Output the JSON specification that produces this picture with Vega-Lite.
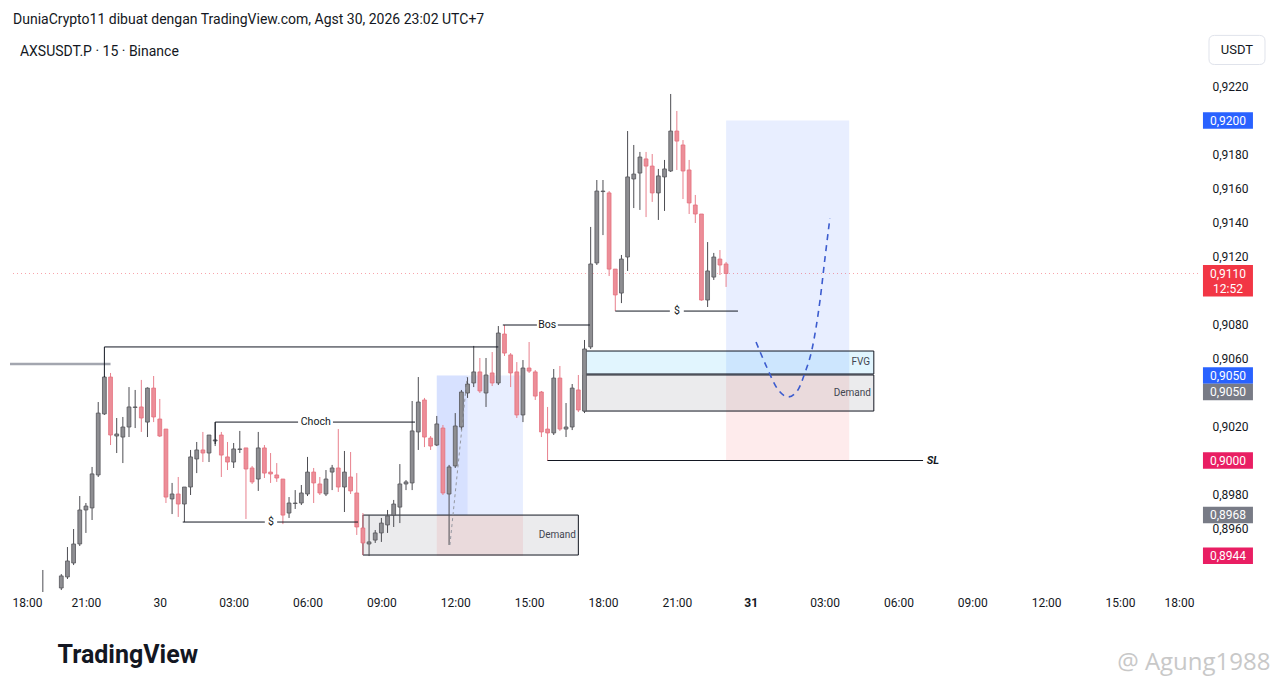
{
  "$schema": "https://vega.github.io/schema/vega-lite/v6.json",
  "width": 1188,
  "height": 560,
  "autosize": {"type": "none"},
  "padding": {"left": 10, "top": 32, "right": 82, "bottom": 97},
  "background": "white",
  "config": {
    "view": {"stroke": null},
    "axis": {"labelFont": "Roboto", "titleFont": "Roboto"},
    "text": {"font": "Roboto"},
    "locale": {"number": {"decimal": ",", "thousands": ".", "grouping": [3], "currency": ["", ""]}}
  },
  "title": {
    "text": "DuniaCrypto11 dibuat dengan TradingView.com, Agst 30, 2026 23:02 UTC+7",
    "subtitle": "\u200b\u00a0\u00a0AXSUSDT.P · 15 · Binance",
    "anchor": "start",
    "frame": "group",
    "offset": -27,
    "dx": 3,
    "font": "Roboto",
    "fontSize": 14,
    "fontWeight": "normal",
    "color": "#131722",
    "subtitleFont": "Roboto",
    "subtitleFontSize": 14,
    "subtitleColor": "#131722",
    "subtitlePadding": 18
  },
  "resolve": {"scale": {"fill": "independent", "stroke": "independent", "color": "independent", "strokeWidth": "independent"}},
  "datasets": {
    "candles": [
      {"t": "2026-08-29T19:15", "o": 0.8915, "h": 0.89356, "l": 0.8912, "c": 0.89209},
      {"t": "2026-08-29T20:00", "o": 0.8925, "h": 0.89332, "l": 0.89238, "c": 0.89321},
      {"t": "2026-08-29T20:15", "o": 0.89315, "h": 0.89491, "l": 0.89303, "c": 0.89409},
      {"t": "2026-08-29T20:30", "o": 0.89397, "h": 0.89597, "l": 0.89385, "c": 0.89509},
      {"t": "2026-08-29T20:45", "o": 0.89509, "h": 0.89791, "l": 0.89497, "c": 0.89709},
      {"t": "2026-08-29T21:00", "o": 0.89709, "h": 0.8975, "l": 0.89574, "c": 0.89732},
      {"t": "2026-08-29T21:15", "o": 0.89721, "h": 0.89962, "l": 0.8965, "c": 0.89921},
      {"t": "2026-08-29T21:30", "o": 0.89915, "h": 0.90344, "l": 0.89903, "c": 0.90279},
      {"t": "2026-08-29T21:45", "o": 0.90274, "h": 0.90497, "l": 0.90268, "c": 0.90491},
      {"t": "2026-08-29T22:00", "o": 0.90491, "h": 0.90515, "l": 0.90091, "c": 0.9015},
      {"t": "2026-08-29T22:15", "o": 0.90144, "h": 0.9025, "l": 0.90044, "c": 0.90156},
      {"t": "2026-08-29T22:30", "o": 0.90138, "h": 0.90256, "l": 0.89985, "c": 0.90197},
      {"t": "2026-08-29T22:45", "o": 0.90197, "h": 0.90432, "l": 0.90138, "c": 0.90315},
      {"t": "2026-08-29T23:00", "o": 0.90312, "h": 0.90415, "l": 0.90191, "c": 0.90315},
      {"t": "2026-08-29T23:15", "o": 0.90315, "h": 0.90474, "l": 0.90168, "c": 0.9025},
      {"t": "2026-08-29T23:30", "o": 0.90226, "h": 0.9043, "l": 0.90138, "c": 0.90426},
      {"t": "2026-08-29T23:45", "o": 0.90426, "h": 0.90497, "l": 0.90226, "c": 0.90256},
      {"t": "2026-08-30T00:00", "o": 0.90244, "h": 0.90362, "l": 0.90138, "c": 0.90144},
      {"t": "2026-08-30T00:15", "o": 0.90185, "h": 0.90185, "l": 0.8975, "c": 0.89785},
      {"t": "2026-08-30T00:30", "o": 0.89774, "h": 0.89868, "l": 0.89685, "c": 0.89803},
      {"t": "2026-08-30T00:45", "o": 0.89803, "h": 0.89903, "l": 0.89668, "c": 0.89744},
      {"t": "2026-08-30T01:00", "o": 0.89744, "h": 0.89844, "l": 0.89638, "c": 0.89844},
      {"t": "2026-08-30T01:15", "o": 0.89844, "h": 0.90062, "l": 0.89797, "c": 0.90021},
      {"t": "2026-08-30T01:30", "o": 0.90009, "h": 0.90109, "l": 0.89926, "c": 0.90062},
      {"t": "2026-08-30T01:45", "o": 0.90062, "h": 0.90168, "l": 0.89991, "c": 0.90044},
      {"t": "2026-08-30T02:00", "o": 0.90044, "h": 0.9015, "l": 0.89991, "c": 0.9015},
      {"t": "2026-08-30T02:15", "o": 0.90115, "h": 0.90226, "l": 0.90085, "c": 0.90121},
      {"t": "2026-08-30T02:30", "o": 0.9015, "h": 0.90168, "l": 0.89903, "c": 0.90032},
      {"t": "2026-08-30T02:45", "o": 0.90021, "h": 0.90109, "l": 0.89944, "c": 0.89991},
      {"t": "2026-08-30T03:00", "o": 0.89991, "h": 0.90103, "l": 0.89956, "c": 0.90068},
      {"t": "2026-08-30T03:15", "o": 0.90065, "h": 0.90174, "l": 0.90044, "c": 0.90068},
      {"t": "2026-08-30T03:30", "o": 0.90074, "h": 0.90074, "l": 0.89656, "c": 0.8995},
      {"t": "2026-08-30T03:45", "o": 0.89956, "h": 0.89968, "l": 0.89862, "c": 0.89874},
      {"t": "2026-08-30T04:00", "o": 0.89891, "h": 0.90168, "l": 0.89821, "c": 0.90074},
      {"t": "2026-08-30T04:15", "o": 0.90074, "h": 0.90091, "l": 0.89897, "c": 0.89926},
      {"t": "2026-08-30T04:30", "o": 0.89932, "h": 0.90044, "l": 0.89868, "c": 0.89921},
      {"t": "2026-08-30T04:45", "o": 0.89915, "h": 0.89985, "l": 0.89874, "c": 0.89897},
      {"t": "2026-08-30T05:00", "o": 0.89891, "h": 0.89891, "l": 0.89626, "c": 0.89679},
      {"t": "2026-08-30T05:15", "o": 0.89691, "h": 0.89785, "l": 0.89662, "c": 0.8975},
      {"t": "2026-08-30T05:30", "o": 0.89747, "h": 0.89826, "l": 0.89715, "c": 0.8975},
      {"t": "2026-08-30T05:45", "o": 0.8975, "h": 0.89856, "l": 0.89738, "c": 0.89809},
      {"t": "2026-08-30T06:00", "o": 0.89803, "h": 0.90021, "l": 0.89791, "c": 0.89932},
      {"t": "2026-08-30T06:15", "o": 0.89932, "h": 0.89956, "l": 0.8975, "c": 0.89868},
      {"t": "2026-08-30T06:30", "o": 0.89862, "h": 0.89903, "l": 0.89797, "c": 0.89809},
      {"t": "2026-08-30T06:45", "o": 0.89803, "h": 0.89944, "l": 0.89791, "c": 0.89891},
      {"t": "2026-08-30T07:00", "o": 0.89932, "h": 0.89974, "l": 0.89826, "c": 0.89956},
      {"t": "2026-08-30T07:15", "o": 0.89956, "h": 0.90185, "l": 0.89815, "c": 0.89844},
      {"t": "2026-08-30T07:30", "o": 0.89844, "h": 0.90056, "l": 0.89697, "c": 0.89932},
      {"t": "2026-08-30T07:45", "o": 0.89903, "h": 0.9005, "l": 0.89803, "c": 0.89821},
      {"t": "2026-08-30T08:00", "o": 0.89809, "h": 0.89926, "l": 0.89562, "c": 0.89609},
      {"t": "2026-08-30T08:15", "o": 0.89603, "h": 0.89691, "l": 0.89444, "c": 0.89515},
      {"t": "2026-08-30T08:30", "o": 0.89509, "h": 0.89679, "l": 0.89438, "c": 0.89521},
      {"t": "2026-08-30T08:45", "o": 0.89532, "h": 0.89591, "l": 0.89515, "c": 0.89574},
      {"t": "2026-08-30T09:00", "o": 0.89574, "h": 0.89662, "l": 0.89521, "c": 0.89632},
      {"t": "2026-08-30T09:15", "o": 0.89621, "h": 0.89709, "l": 0.89574, "c": 0.89674},
      {"t": "2026-08-30T09:30", "o": 0.89679, "h": 0.89768, "l": 0.89609, "c": 0.89744},
      {"t": "2026-08-30T09:45", "o": 0.89726, "h": 0.89979, "l": 0.89632, "c": 0.89862},
      {"t": "2026-08-30T10:00", "o": 0.89862, "h": 0.89885, "l": 0.89826, "c": 0.89874},
      {"t": "2026-08-30T10:15", "o": 0.89868, "h": 0.9035, "l": 0.89826, "c": 0.90174},
      {"t": "2026-08-30T10:30", "o": 0.90168, "h": 0.90491, "l": 0.90062, "c": 0.90344},
      {"t": "2026-08-30T10:45", "o": 0.90356, "h": 0.90368, "l": 0.90079, "c": 0.90138},
      {"t": "2026-08-30T11:00", "o": 0.90132, "h": 0.90144, "l": 0.90062, "c": 0.90085},
      {"t": "2026-08-30T11:15", "o": 0.90091, "h": 0.90262, "l": 0.90085, "c": 0.90215},
      {"t": "2026-08-30T11:30", "o": 0.90191, "h": 0.90209, "l": 0.89797, "c": 0.89809},
      {"t": "2026-08-30T11:45", "o": 0.89803, "h": 0.89974, "l": 0.89503, "c": 0.89962},
      {"t": "2026-08-30T12:00", "o": 0.89968, "h": 0.90279, "l": 0.89956, "c": 0.90203},
      {"t": "2026-08-30T12:15", "o": 0.90197, "h": 0.90415, "l": 0.90179, "c": 0.90403},
      {"t": "2026-08-30T12:30", "o": 0.90397, "h": 0.90491, "l": 0.90368, "c": 0.9045},
      {"t": "2026-08-30T12:45", "o": 0.90456, "h": 0.90674, "l": 0.90432, "c": 0.90521},
      {"t": "2026-08-30T13:00", "o": 0.90521, "h": 0.90603, "l": 0.90397, "c": 0.90409},
      {"t": "2026-08-30T13:15", "o": 0.90397, "h": 0.90603, "l": 0.90315, "c": 0.90503},
      {"t": "2026-08-30T13:30", "o": 0.90515, "h": 0.90638, "l": 0.90438, "c": 0.90456},
      {"t": "2026-08-30T13:45", "o": 0.90456, "h": 0.90791, "l": 0.90444, "c": 0.9075},
      {"t": "2026-08-30T14:00", "o": 0.90744, "h": 0.90797, "l": 0.90615, "c": 0.90632},
      {"t": "2026-08-30T14:15", "o": 0.90621, "h": 0.90632, "l": 0.90432, "c": 0.90515},
      {"t": "2026-08-30T14:30", "o": 0.90521, "h": 0.90579, "l": 0.9025, "c": 0.90268},
      {"t": "2026-08-30T14:45", "o": 0.90268, "h": 0.90591, "l": 0.90226, "c": 0.90544},
      {"t": "2026-08-30T15:00", "o": 0.90544, "h": 0.90697, "l": 0.90515, "c": 0.90526},
      {"t": "2026-08-30T15:15", "o": 0.90521, "h": 0.90532, "l": 0.90356, "c": 0.90379},
      {"t": "2026-08-30T15:30", "o": 0.90403, "h": 0.90409, "l": 0.90138, "c": 0.90168},
      {"t": "2026-08-30T15:45", "o": 0.90185, "h": 0.90315, "l": 0.89997, "c": 0.90162},
      {"t": "2026-08-30T16:00", "o": 0.90162, "h": 0.90538, "l": 0.9015, "c": 0.90485},
      {"t": "2026-08-30T16:15", "o": 0.90485, "h": 0.90556, "l": 0.90174, "c": 0.90185},
      {"t": "2026-08-30T16:30", "o": 0.90185, "h": 0.90338, "l": 0.90138, "c": 0.90197},
      {"t": "2026-08-30T16:45", "o": 0.90197, "h": 0.9045, "l": 0.90179, "c": 0.90426},
      {"t": "2026-08-30T17:00", "o": 0.90415, "h": 0.90503, "l": 0.90285, "c": 0.90297},
      {"t": "2026-08-30T17:15", "o": 0.90291, "h": 0.90709, "l": 0.90279, "c": 0.90656},
      {"t": "2026-08-30T17:30", "o": 0.90668, "h": 0.91374, "l": 0.90656, "c": 0.91156},
      {"t": "2026-08-30T17:45", "o": 0.91162, "h": 0.9165, "l": 0.9115, "c": 0.91585},
      {"t": "2026-08-30T18:00", "o": 0.91582, "h": 0.9165, "l": 0.91326, "c": 0.91585},
      {"t": "2026-08-30T18:15", "o": 0.91574, "h": 0.91585, "l": 0.91085, "c": 0.91126},
      {"t": "2026-08-30T18:30", "o": 0.91126, "h": 0.91126, "l": 0.90879, "c": 0.90974},
      {"t": "2026-08-30T18:45", "o": 0.90985, "h": 0.91209, "l": 0.90926, "c": 0.91185},
      {"t": "2026-08-30T19:00", "o": 0.91197, "h": 0.91938, "l": 0.91115, "c": 0.91668},
      {"t": "2026-08-30T19:15", "o": 0.91656, "h": 0.91856, "l": 0.91485, "c": 0.91685},
      {"t": "2026-08-30T19:30", "o": 0.91691, "h": 0.91815, "l": 0.91474, "c": 0.91785},
      {"t": "2026-08-30T19:45", "o": 0.91774, "h": 0.91815, "l": 0.91432, "c": 0.91732},
      {"t": "2026-08-30T20:00", "o": 0.91732, "h": 0.91803, "l": 0.91521, "c": 0.91574},
      {"t": "2026-08-30T20:15", "o": 0.91574, "h": 0.91715, "l": 0.91415, "c": 0.91674},
      {"t": "2026-08-30T20:30", "o": 0.91668, "h": 0.91768, "l": 0.91468, "c": 0.91715},
      {"t": "2026-08-30T20:45", "o": 0.91703, "h": 0.92156, "l": 0.91697, "c": 0.91938},
      {"t": "2026-08-30T21:00", "o": 0.91938, "h": 0.92056, "l": 0.91709, "c": 0.91879},
      {"t": "2026-08-30T21:15", "o": 0.91856, "h": 0.91885, "l": 0.91538, "c": 0.91703},
      {"t": "2026-08-30T21:30", "o": 0.91709, "h": 0.91768, "l": 0.9145, "c": 0.91515},
      {"t": "2026-08-30T21:45", "o": 0.91503, "h": 0.91562, "l": 0.91397, "c": 0.9145},
      {"t": "2026-08-30T22:00", "o": 0.9145, "h": 0.9145, "l": 0.9094, "c": 0.90944},
      {"t": "2026-08-30T22:15", "o": 0.90944, "h": 0.91285, "l": 0.90903, "c": 0.91115},
      {"t": "2026-08-30T22:30", "o": 0.91079, "h": 0.91221, "l": 0.91062, "c": 0.91197},
      {"t": "2026-08-30T22:45", "o": 0.91185, "h": 0.91238, "l": 0.91091, "c": 0.9115},
      {"t": "2026-08-30T23:00", "o": 0.91156, "h": 0.91168, "l": 0.91021, "c": 0.911}
    ],
    "zones": [
      {"kind": "profit", "t1": "2026-08-30T11:15", "t2": "2026-08-30T14:45", "p1": 0.8968, "p2": 0.905},
      {"kind": "hit", "t1": "2026-08-30T11:15", "t2": "2026-08-30T12:30", "p1": 0.8968, "p2": 0.905},
      {"kind": "loss", "t1": "2026-08-30T11:15", "t2": "2026-08-30T14:45", "p1": 0.8944, "p2": 0.8968},
      {"kind": "profit", "t1": "2026-08-30T23:00", "t2": "2026-08-31T04:00", "p1": 0.905, "p2": 0.92},
      {"kind": "loss", "t1": "2026-08-30T23:00", "t2": "2026-08-31T04:00", "p1": 0.9, "p2": 0.905}
    ],
    "boxes": [
      {"kind": "demand", "t1": "2026-08-30T08:15", "t2": "2026-08-30T17:00", "p1": 0.89444, "p2": 0.89679},
      {"kind": "fvg", "t1": "2026-08-30T17:15", "t2": "2026-08-31T05:00", "p1": 0.90509, "p2": 0.90644},
      {"kind": "demand", "t1": "2026-08-30T17:12", "t2": "2026-08-31T05:00", "p1": 0.90291, "p2": 0.90503}
    ],
    "segs": [
      {"kind": "grey", "t1": "2026-08-29T17:55", "t2": "2026-08-29T22:00", "p1": 0.90568, "p2": 0.90568},
      {"kind": "black", "t1": "2026-08-29T21:45", "t2": "2026-08-29T21:45", "p1": 0.90491, "p2": 0.90668},
      {"kind": "black", "t1": "2026-08-29T21:45", "t2": "2026-08-30T13:45", "p1": 0.90668, "p2": 0.90668},
      {"kind": "black", "t1": "2026-08-30T02:15", "t2": "2026-08-30T02:15", "p1": 0.90097, "p2": 0.90226},
      {"kind": "black", "t1": "2026-08-30T02:15", "t2": "2026-08-30T05:37", "p1": 0.90226, "p2": 0.90226},
      {"kind": "black", "t1": "2026-08-30T07:02", "t2": "2026-08-30T10:22", "p1": 0.90226, "p2": 0.90226},
      {"kind": "black", "t1": "2026-08-30T00:56", "t2": "2026-08-30T04:16", "p1": 0.89638, "p2": 0.89638},
      {"kind": "black", "t1": "2026-08-30T04:46", "t2": "2026-08-30T08:03", "p1": 0.89638, "p2": 0.89638},
      {"kind": "black", "t1": "2026-08-30T13:56", "t2": "2026-08-30T15:19", "p1": 0.90797, "p2": 0.90797},
      {"kind": "black", "t1": "2026-08-30T16:10", "t2": "2026-08-30T17:28", "p1": 0.90797, "p2": 0.90797},
      {"kind": "black", "t1": "2026-08-30T18:30", "t2": "2026-08-30T20:43", "p1": 0.90879, "p2": 0.90879},
      {"kind": "black", "t1": "2026-08-30T21:17", "t2": "2026-08-30T23:29", "p1": 0.90879, "p2": 0.90879},
      {"kind": "black", "t1": "2026-08-30T15:45", "t2": "2026-08-31T07:00", "p1": 0.9, "p2": 0.9}
    ],
    "curve": [
      {"t": "2026-08-31T00:13", "p": 0.90697},
      {"t": "2026-08-31T00:40", "p": 0.90544},
      {"t": "2026-08-31T01:04", "p": 0.90426},
      {"t": "2026-08-31T01:31", "p": 0.90374},
      {"t": "2026-08-31T01:55", "p": 0.90415},
      {"t": "2026-08-31T02:12", "p": 0.90515},
      {"t": "2026-08-31T02:29", "p": 0.9065},
      {"t": "2026-08-31T02:49", "p": 0.90944},
      {"t": "2026-08-31T03:01", "p": 0.91191},
      {"t": "2026-08-31T03:13", "p": 0.91426}
    ],
    "trade": [
      {"t": "2026-08-30T11:47", "p": 0.89503},
      {"t": "2026-08-30T12:29", "p": 0.90491}
    ],
    "labels": [
      {"kind": "mark", "text": "Choch", "t": "2026-08-30T06:20", "p": 0.90226},
      {"kind": "mark", "text": "$", "t": "2026-08-30T04:31", "p": 0.89638},
      {"kind": "mark", "text": "Bos", "t": "2026-08-30T15:44", "p": 0.90797},
      {"kind": "mark", "text": "$", "t": "2026-08-30T21:00", "p": 0.90879},
      {"kind": "zone", "text": "FVG", "t": "2026-08-31T04:51", "p": 0.90577},
      {"kind": "zone", "text": "Demand", "t": "2026-08-31T04:53", "p": 0.90397},
      {"kind": "zone", "text": "Demand", "t": "2026-08-30T16:54", "p": 0.89562},
      {"kind": "sl", "text": "SL", "t": "2026-08-31T07:24", "p": 0.9}
    ],
    "notes": [
      {"kind": "unit", "text": "USDT", "t": "2026-08-31T19:45", "p": 0.92415},
      {"kind": "credit", "text": "@ Agung1988", "t": "2026-08-31T14:53", "p": 0.888088}
    ],
    "markers": [
      {"kind": "target", "p": 0.92, "label": "0,9200", "sub": ""},
      {"kind": "last", "p": 0.911, "label": "0,9110", "sub": "12:52"},
      {"kind": "entry", "p": 0.905, "label": "0,9050", "sub": ""},
      {"kind": "zone", "p": 0.905, "label": "0,9050", "sub": ""},
      {"kind": "stop", "p": 0.9, "label": "0,9000", "sub": ""},
      {"kind": "entry2", "p": 0.8968, "label": "0,8968", "sub": ""},
      {"kind": "stop", "p": 0.8944, "label": "0,8944", "sub": ""}
    ]
  },
  "layer": [
    {
      "data": {"name": "zones"},
      "mark": {"type": "rect"},
      "encoding": {
        "x": {"field": "t1", "type": "temporal",
          "scale": {"domain": [{"year": 2026, "month": 8, "date": 29, "hours": 17, "minutes": 55}, {"year": 2026, "month": 8, "date": 31, "hours": 18, "minutes": 10}], "nice": false, "padding": 0},
          "axis": {"orient": "bottom", "title": "TradingView", "titleX": 47, "titleY": 62, "titleAlign": "left", "titleBaseline": "middle", "titleFontSize": 25, "titleFontWeight": "bold", "titleColor": "#131722",
            "grid": false, "ticks": false, "domain": false, "labelPadding": 5, "labelFontSize": 12, "labelColor": "#131722", "labelFlush": 6, "labelOverlap": false,
            "values": [
              {"year": 2026, "month": 8, "date": 29, "hours": 18},
              {"year": 2026, "month": 8, "date": 29, "hours": 21},
              {"year": 2026, "month": 8, "date": 30, "hours": 0},
              {"year": 2026, "month": 8, "date": 30, "hours": 3},
              {"year": 2026, "month": 8, "date": 30, "hours": 6},
              {"year": 2026, "month": 8, "date": 30, "hours": 9},
              {"year": 2026, "month": 8, "date": 30, "hours": 12},
              {"year": 2026, "month": 8, "date": 30, "hours": 15},
              {"year": 2026, "month": 8, "date": 30, "hours": 18},
              {"year": 2026, "month": 8, "date": 30, "hours": 21},
              {"year": 2026, "month": 8, "date": 31, "hours": 0},
              {"year": 2026, "month": 8, "date": 31, "hours": 3},
              {"year": 2026, "month": 8, "date": 31, "hours": 6},
              {"year": 2026, "month": 8, "date": 31, "hours": 9},
              {"year": 2026, "month": 8, "date": 31, "hours": 12},
              {"year": 2026, "month": 8, "date": 31, "hours": 15},
              {"year": 2026, "month": 8, "date": 31, "hours": 18}
            ],
            "labelExpr": "hours(datum.value) == 0 ? '' + date(datum.value) : timeFormat(datum.value, '%H:%M')",
            "labelFontWeight": {"condition": {"test": "hours(datum.value) == 0 && date(datum.value) == 31", "value": "bold"}, "value": "normal"}}},
        "x2": {"field": "t2"},
        "y": {"field": "p1", "type": "quantitative", "scale": {"domain": [0.892265, 0.925206], "nice": false, "zero": false, "padding": 0},
          "axis": {"orient": "right", "title": null, "grid": false, "ticks": false, "domain": false, "labelPadding": 14, "labelFontSize": 12, "labelColor": "#131722", "labelOverlap": false, "labelFlush": false,
            "values": [0.896, 0.898, 0.902, 0.906, 0.908, 0.912, 0.914, 0.916, 0.918, 0.922],
            "format": ".4f"}},
        "y2": {"field": "p2"},
        "fill": {"field": "kind", "type": "nominal", "legend": null,
          "scale": {"domain": ["profit", "hit", "loss"], "range": ["rgba(41,98,255,0.11)", "rgba(41,98,255,0.09)", "rgba(242,54,69,0.1)"]}}
      }
    },
    {
      "data": {"name": "boxes"},
      "mark": {"type": "rect", "stroke": "#131722", "strokeWidth": 1},
      "encoding": {
        "x": {"field": "t1", "type": "temporal"},
        "x2": {"field": "t2"},
        "y": {"field": "p1", "type": "quantitative"},
        "y2": {"field": "p2"},
        "fill": {"field": "kind", "type": "nominal", "legend": null,
          "scale": {"domain": ["fvg", "demand"], "range": ["rgba(41,182,246,0.14)", "rgba(120,123,134,0.15)"]}}
      }
    },
    {
      "data": {"name": "markers"},
      "transform": [{"filter": "datum.kind == 'last'"}],
      "mark": {"type": "rule", "strokeDash": [1, 3], "color": "#f23645", "opacity": 0.45, "strokeWidth": 1},
      "encoding": {"y": {"field": "p", "type": "quantitative"}}
    },
    {
      "data": {"name": "candles"},
      "mark": {"type": "rule", "clip": true, "strokeWidth": 1},
      "encoding": {
        "x": {"field": "t", "type": "temporal"},
        "y": {"field": "l", "type": "quantitative"},
        "y2": {"field": "h"},
        "color": {"condition": {"test": "datum.c >= datum.o", "value": "#4d4d52"}, "value": "#e8808d"}
      }
    },
    {
      "data": {"name": "candles"},
      "mark": {"type": "bar", "clip": true, "size": 3.8, "strokeWidth": 0.8},
      "encoding": {
        "x": {"field": "t", "type": "temporal"},
        "y": {"field": "o", "type": "quantitative"},
        "y2": {"field": "c"},
        "fill": {"condition": {"test": "datum.c >= datum.o", "value": "#8e8e92"}, "value": "#ec8e98"},
        "stroke": {"condition": {"test": "datum.c >= datum.o", "value": "#55555a"}, "value": "#e5707e"}
      }
    },
    {
      "data": {"name": "segs"},
      "mark": {"type": "rule"},
      "encoding": {
        "x": {"field": "t1", "type": "temporal"},
        "x2": {"field": "t2"},
        "y": {"field": "p1", "type": "quantitative"},
        "y2": {"field": "p2"},
        "color": {"field": "kind", "type": "nominal", "legend": null, "scale": {"domain": ["black", "grey"], "range": ["#131722", "#a3a6af"]}},
        "strokeWidth": {"field": "kind", "type": "nominal", "legend": null, "scale": {"domain": ["black", "grey"], "range": [1, 2.5]}}
      }
    },
    {
      "data": {"name": "curve"},
      "mark": {"type": "line", "interpolate": "monotone", "strokeDash": [6, 5], "color": "#3c5ccf", "strokeWidth": 1.6},
      "encoding": {
        "x": {"field": "t", "type": "temporal"},
        "y": {"field": "p", "type": "quantitative"}
      }
    },
    {
      "data": {"name": "trade"},
      "mark": {"type": "line", "strokeDash": [3, 3], "color": "#9598a1", "strokeWidth": 1},
      "encoding": {
        "x": {"field": "t", "type": "temporal"},
        "y": {"field": "p", "type": "quantitative"}
      }
    },
    {
      "data": {"name": "labels"},
      "transform": [{"filter": "datum.kind == 'mark'"}],
      "mark": {"type": "text", "fontSize": 10.5, "color": "#131722", "align": "center", "baseline": "middle"},
      "encoding": {
        "x": {"field": "t", "type": "temporal"},
        "y": {"field": "p", "type": "quantitative"},
        "text": {"field": "text"}
      }
    },
    {
      "data": {"name": "labels"},
      "transform": [{"filter": "datum.kind == 'zone'"}],
      "mark": {"type": "text", "fontSize": 10, "color": "#434651", "align": "right", "baseline": "middle"},
      "encoding": {
        "x": {"field": "t", "type": "temporal"},
        "y": {"field": "p", "type": "quantitative"},
        "text": {"field": "text"}
      }
    },
    {
      "data": {"name": "labels"},
      "transform": [{"filter": "datum.kind == 'sl'"}],
      "mark": {"type": "text", "fontSize": 11, "fontWeight": "bold", "fontStyle": "italic", "color": "#131722", "align": "center", "baseline": "middle"},
      "encoding": {
        "x": {"field": "t", "type": "temporal"},
        "y": {"field": "p", "type": "quantitative"},
        "text": {"field": "text"}
      }
    },
    {
      "data": {"name": "notes"},
      "transform": [{"filter": "datum.kind == 'unit'"}],
      "mark": {"type": "point", "filled": false, "opacity": 1, "size": 3136, "strokeWidth": 1, "color": "#e0e3eb",
        "shape": "M-0.8,-0.52L0.8,-0.52Q1,-0.52,1,-0.32L1,0.32Q1,0.52,0.8,0.52L-0.8,0.52Q-1,0.52,-1,0.32L-1,-0.32Q-1,-0.52,-0.8,-0.52Z"},
      "encoding": {
        "x": {"field": "t", "type": "temporal"},
        "y": {"field": "p", "type": "quantitative"}
      }
    },
    {
      "data": {"name": "notes"},
      "transform": [{"filter": "datum.kind == 'unit'"}],
      "mark": {"type": "text", "fontSize": 13, "color": "#131722", "align": "center", "baseline": "middle"},
      "encoding": {
        "x": {"field": "t", "type": "temporal"},
        "y": {"field": "p", "type": "quantitative"},
        "text": {"field": "text"}
      }
    },
    {
      "data": {"name": "notes"},
      "transform": [{"filter": "datum.kind == 'credit'"}],
      "mark": {"type": "text", "font": "Open Sans", "fontSize": 24, "color": "#c8c8c8", "align": "left", "baseline": "middle"},
      "encoding": {
        "x": {"field": "t", "type": "temporal"},
        "y": {"field": "p", "type": "quantitative"},
        "text": {"field": "text"}
      }
    },
    {
      "data": {"name": "markers"},
      "transform": [{"filter": "datum.kind != 'last' && datum.kind != 'zone'"}],
      "mark": {"type": "point", "filled": true, "opacity": 1, "size": 2500, "shape": "M-1,-0.33L1,-0.33L1,0.33L-1,0.33Z"},
      "encoding": {
        "x": {"datum": {"year": 2026, "month": 8, "date": 31, "hours": 19, "minutes": 23}, "type": "temporal"},
        "y": {"field": "p", "type": "quantitative"},
        "fill": {"field": "kind", "type": "nominal", "legend": null, "scale": {"domain": ["target", "entry", "stop", "entry2"], "range": ["#2962ff", "#2962ff", "#e91e63", "#787b86"]}}
      }
    },
    {
      "data": {"name": "markers"},
      "transform": [{"filter": "datum.kind == 'last'"}],
      "mark": {"type": "point", "filled": true, "opacity": 1, "size": 2500, "shape": "M-1,-0.34L1,-0.34L1,0.92L-1,0.92Z", "color": "#f23645"},
      "encoding": {
        "x": {"datum": {"year": 2026, "month": 8, "date": 31, "hours": 19, "minutes": 23}, "type": "temporal"},
        "y": {"field": "p", "type": "quantitative"}
      }
    },
    {
      "data": {"name": "markers"},
      "transform": [{"filter": "datum.kind == 'zone'"}],
      "mark": {"type": "point", "filled": true, "opacity": 1, "size": 2500, "shape": "M-1,-0.33L1,-0.33L1,0.33L-1,0.33Z", "color": "#787b86", "yOffset": 16.5},
      "encoding": {
        "x": {"datum": {"year": 2026, "month": 8, "date": 31, "hours": 19, "minutes": 23}, "type": "temporal"},
        "y": {"field": "p", "type": "quantitative"}
      }
    },
    {
      "data": {"name": "markers"},
      "transform": [{"filter": "datum.kind != 'zone'"}],
      "mark": {"type": "text", "fontSize": 12, "color": "white", "align": "center", "baseline": "middle"},
      "encoding": {
        "x": {"datum": {"year": 2026, "month": 8, "date": 31, "hours": 19, "minutes": 23}, "type": "temporal"},
        "y": {"field": "p", "type": "quantitative"},
        "text": {"field": "label"}
      }
    },
    {
      "data": {"name": "markers"},
      "transform": [{"filter": "datum.kind == 'zone'"}],
      "mark": {"type": "text", "fontSize": 12, "color": "white", "align": "center", "baseline": "middle", "yOffset": 16.5},
      "encoding": {
        "x": {"datum": {"year": 2026, "month": 8, "date": 31, "hours": 19, "minutes": 23}, "type": "temporal"},
        "y": {"field": "p", "type": "quantitative"},
        "text": {"field": "label"}
      }
    },
    {
      "data": {"name": "markers"},
      "transform": [{"filter": "datum.kind == 'last'"}],
      "mark": {"type": "text", "fontSize": 12, "color": "white", "align": "center", "baseline": "middle", "dy": 15.5},
      "encoding": {
        "x": {"datum": {"year": 2026, "month": 8, "date": 31, "hours": 19, "minutes": 23}, "type": "temporal"},
        "y": {"field": "p", "type": "quantitative"},
        "text": {"field": "sub"}
      }
    }
  ]
}
